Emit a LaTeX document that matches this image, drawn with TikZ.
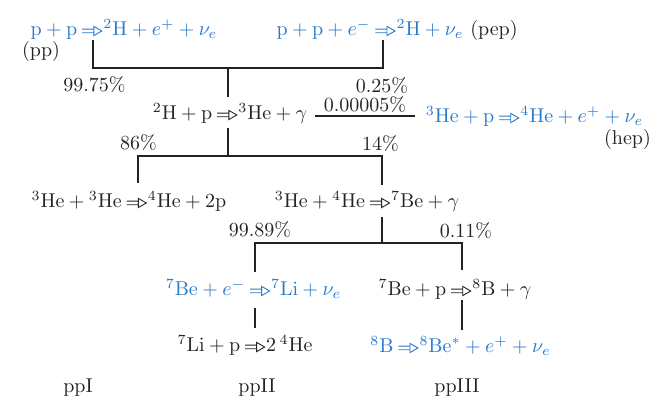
\documentclass[tikz,border=0pt]{standalone}
\usetikzlibrary{arrows.meta}
\definecolor{rblue}{RGB}{40,122,205}
\definecolor{rink}{RGB}{35,35,35}
\newcommand{\tarr}{\mskip4mu\mathord{\tikz[baseline=-2.5pt]{\draw[line width=0.45pt,line join=miter] (0pt,0.9pt)--(5.8pt,0.9pt) (0pt,-0.9pt)--(5.8pt,-0.9pt) (5.8pt,2.3pt)--(9.8pt,0pt)--(5.8pt,-2.3pt)--cycle;}}\mskip1mu}
\tikzset{
  eq/.style={anchor=base, inner sep=0pt, text=rink, font=\fontsize{10}{12}\selectfont},
  beq/.style={eq, text=rblue},
  link/.style={draw=rink, line width=0.7pt}
}
\begin{document}
\begin{tikzpicture}[x=0.5pt,y=-0.5pt]
\fill[white] (0,0) rectangle (660,405);
\useasboundingbox (0,0) rectangle (660,405);
% row 1
\node[beq] (ppA) at (124,36) {$\mathrm{p}+\mathrm{p}\tarr{}^{2}\mathrm{H}+e^{+}+\nu_{e}$};
\node[eq] (ppL) at (41,57) {(pp)};
\node[beq] (pepA) at (370,36) {$\mathrm{p}+\mathrm{p}+e^{-}\tarr{}^{2}\mathrm{H}+\nu_{e}$};
\node[eq] (pepL) at (494,36) {(pep)};
\node[eq] (p1) at (94.5,92) {99.75\%};
\node[eq] (p2) at (382,93) {0.25\%};
% row 2
\node[eq] (dA) at (230,120) {${}^{2}\mathrm{H}+\mathrm{p}\tarr{}^{3}\mathrm{He}+\gamma$};
\node[eq] (p3) at (365,112) {0.00005\%};
\node[beq] (hepA) at (534.5,123) {${}^{3}\mathrm{He}+\mathrm{p}\tarr{}^{4}\mathrm{He}+e^{+}+\nu_{e}$};
\node[eq] (hepL) at (627.5,145) {(hep)};
\node[eq] (p4) at (138.5,150) {86\%};
\node[eq] (p5) at (380.5,151) {14\%};
% row 3
\node[eq] (hhA) at (129,208) {${}^{3}\mathrm{He}+{}^{3}\mathrm{He}\tarr{}^{4}\mathrm{He}+2\mathrm{p}$};
\node[eq] (beA) at (367,208) {${}^{3}\mathrm{He}+{}^{4}\mathrm{He}\tarr{}^{7}\mathrm{Be}+\gamma$};
\node[eq] (p6) at (260,237) {99.89\%};
\node[eq] (p7) at (466,238) {0.11\%};
% row 4
\node[beq] (ecA) at (253.5,296) {${}^{7}\mathrm{Be}+e^{-}\tarr{}^{7}\mathrm{Li}+\nu_{e}$};
\node[eq] (bpA) at (455,296) {${}^{7}\mathrm{Be}+\mathrm{p}\tarr{}^{8}\mathrm{B}+\gamma$};
% row 5
\node[eq] (liA) at (245,352) {${}^{7}\mathrm{Li}+\mathrm{p}\tarr 2\,{}^{4}\mathrm{He}$};
\node[beq] (b8A) at (460.5,353) {${}^{8}\mathrm{B}\tarr{}^{8}\mathrm{Be}^{*}+e^{+}+\nu_{e}$};
% row 6
\node[eq] (c1) at (78,393) {ppI};
\node[eq] (c2) at (257,393) {ppII};
\node[eq] (c3) at (457,393) {ppIII};
% junction coordinates
\coordinate (a1) at (93,40);
\coordinate (a2) at (383,40);
\coordinate (a3) at (228,68);
\coordinate (a4) at (228,97);
\coordinate (b1) at (228,128);
\coordinate (b2) at (228,156);
\coordinate (b3) at (138,183);
\coordinate (b4) at (382,185);
\coordinate (h1) at (315,116);
\coordinate (h2) at (415,116);
\coordinate (e1) at (382,217);
\coordinate (e2) at (382,243);
\coordinate (e3) at (255,272);
\coordinate (e4) at (462,270);
\coordinate (f1) at (255,308);
\coordinate (f2) at (255,328);
\coordinate (g1) at (462,300);
\coordinate (g2) at (462,330);
% connectors
\draw[link] (a1) |- (a3) -| (a2);
\draw[link] (a3) -- (a4);
\draw[link] (b1) -- (b2);
\draw[link] (b3) |- (b2) -| (b4);
\draw[link] (h1) -- (h2);
\draw[link] (e1) -- (e2);
\draw[link] (e3) |- (e2) -| (e4);
\draw[link] (f1) -- (f2);
\draw[link] (g1) -- (g2);
\end{tikzpicture}
\end{document}
